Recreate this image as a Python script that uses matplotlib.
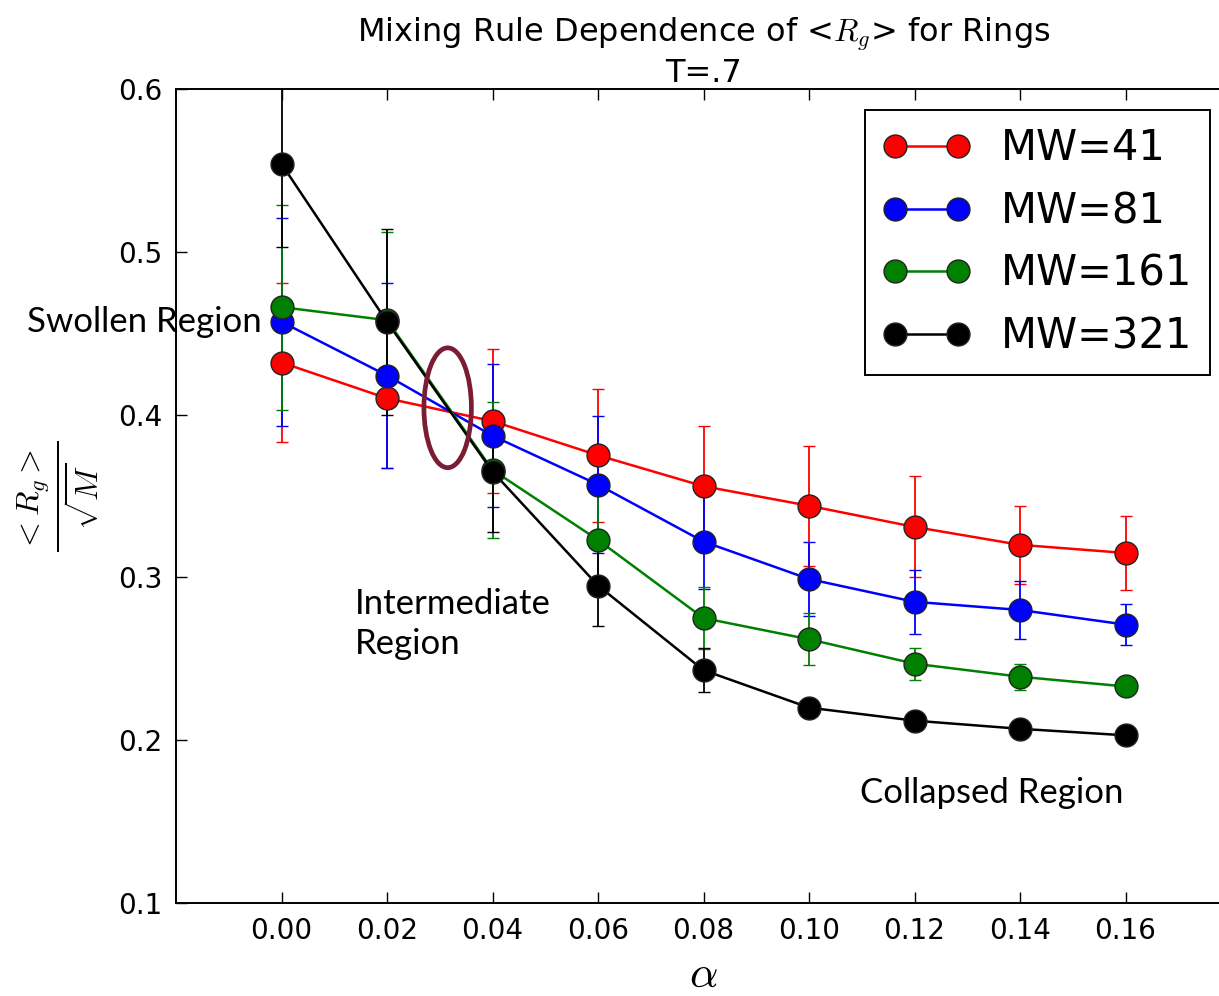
import matplotlib
matplotlib.use("Agg")
import matplotlib.pyplot as plt
from matplotlib.patches import Ellipse

alpha = [0.00, 0.02, 0.04, 0.06, 0.08, 0.10, 0.12, 0.14, 0.16]
rg_41 = [0.432, 0.410, 0.396, 0.375, 0.356, 0.344, 0.331, 0.320, 0.315]
err_41 = [0.049, 0.043, 0.044, 0.041, 0.037, 0.037, 0.031, 0.024, 0.023]
rg_81 = [0.457, 0.424, 0.387, 0.357, 0.322, 0.299, 0.285, 0.280, 0.271]
err_81 = [0.064, 0.057, 0.044, 0.042, 0.029, 0.0225, 0.0195, 0.018, 0.0125]
rg_161 = [0.466, 0.458, 0.366, 0.323, 0.275, 0.262, 0.247, 0.239, 0.233]
err_161 = [0.063, 0.054, 0.042, 0.034, 0.019, 0.016, 0.0098, 0.008, 0.004]
rg_321 = [0.554, 0.457, 0.365, 0.295, 0.243, 0.220, 0.212, 0.207, 0.203]
err_321 = [0.051, 0.057, 0.037, 0.025, 0.0135, 0.005, 0.004, 0.003, 0.003]

labels = ["MW=41", "MW=81", "MW=161", "MW=321"]
colors = ["red", "blue", "green", "black"]
xticks = [0.00, 0.02, 0.04, 0.06, 0.08, 0.10, 0.12, 0.14, 0.16]
yticks = [0.1, 0.2, 0.3, 0.4, 0.5, 0.6]

plt.rcParams['font.family'] = ['DejaVu Sans']
plt.rcParams['mathtext.fontset'] = 'cm'

fig = plt.figure(figsize=(12.19, 9.96), dpi=100)
ax = fig.add_axes([176/1219, 93/996, 1055/1219, 814/996])

series = [(rg_41, err_41), (rg_81, err_81), (rg_161, err_161), (rg_321, err_321)]
handles = []
for (y, e), c, lab in zip(series, colors, labels):
    cont = ax.errorbar(alpha, y, yerr=e, color=c, marker='o', markersize=16.5,
                       markerfacecolor=c, markeredgecolor='#222222', markeredgewidth=1.0,
                       linewidth=1.8, elinewidth=1.3, capsize=4.5, capthick=1.3, label=lab)
    handles.append(cont.lines[0])

ax.set_xlim(-0.02, 0.18)
ax.set_ylim(0.1, 0.6)
ax.set_xticks(xticks)
ax.set_xticklabels([f"{v:.2f}" for v in xticks])
ax.set_yticks(yticks)
ax.set_yticklabels([f"{v:.1f}" for v in yticks])
ax.tick_params(direction='in', length=8, width=1, top=True, right=True,
               labelsize=20, pad=10)
for s in ax.spines.values():
    s.set_linewidth(1.4)

ax.set_title("Mixing Rule Dependence of <$R_g$> for Rings\nT=.7", fontsize=23, pad=5)
ax.set_xlabel(r"$\alpha$", fontsize=32, labelpad=6)
ax.set_ylabel(r"$\frac{<R_g>}{\sqrt{M}}$", fontsize=33, labelpad=12)

leg = ax.legend(handles, labels, loc='upper right', fontsize=30, numpoints=2,
                handlelength=2.1, handletextpad=0.75, labelspacing=0.5, borderpad=0.42,
                fancybox=False, framealpha=1, edgecolor='black', borderaxespad=0.5)
leg.get_frame().set_linewidth(1.4)

ell = Ellipse((0.0315, 0.4042), width=0.0090, height=0.0736, fill=False,
              edgecolor='#7b1c35', linewidth=3.4, zorder=10)
ax.add_patch(ell)

ann_font = ['Lato', 'DejaVu Sans']
fig.text(27/1219, 1 - 322/996, "Swollen Region", fontsize=25, family=ann_font,
         ha='left', va='center')
fig.text(355/1219, 1 - 624/996, "Intermediate\nRegion", fontsize=25, family=ann_font,
         ha='left', va='center', linespacing=1.3)
fig.text(860/1219, 1 - 793/996, "Collapsed Region", fontsize=25, family=ann_font,
         ha='left', va='center')

fig.savefig("out.png", dpi=100)
